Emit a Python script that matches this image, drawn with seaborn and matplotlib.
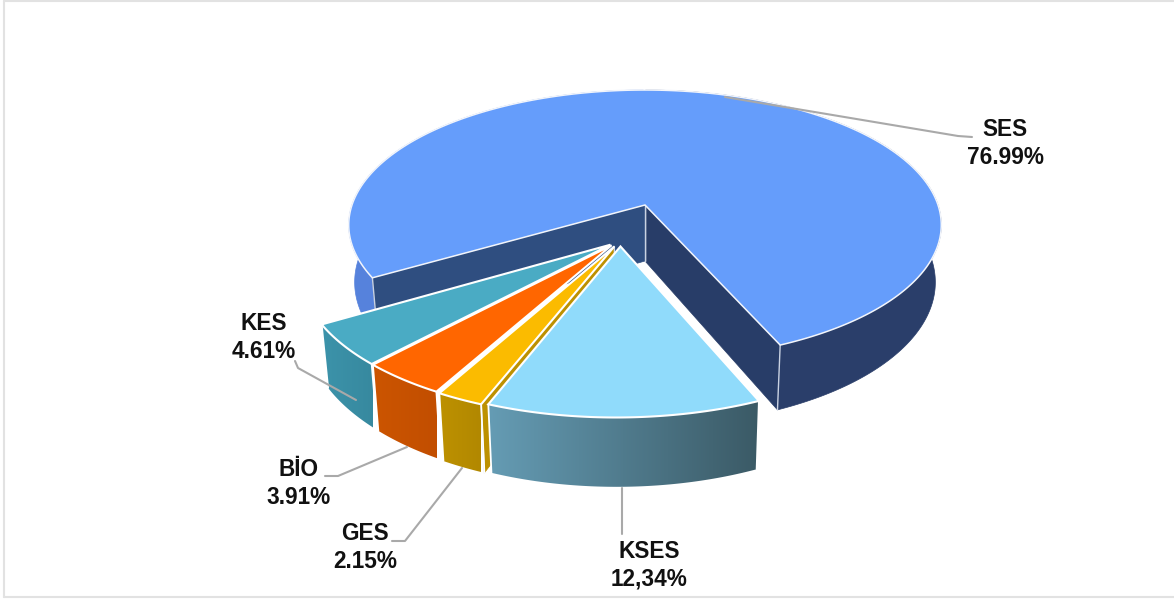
import numpy as np
import matplotlib.pyplot as plt
from matplotlib.patches import Polygon
import seaborn as sns

# Dados do gráfico
names = ['SES', 'KES', 'BİO', 'GES', 'KSES']
shares = [76.99, 4.61, 3.91, 2.15, 12.34]
share_labels = ['76.99%', '4.61%', '3.91%', '2.15%', '12,34%']

# Cores: topo, parede inicial e final (gradiente)
top_colors = ['#659DFB', '#4AABC4', '#FF6600', '#FBBB00', '#90DBFB']
wall_start = ['#2A3E6A', '#3C93AA', '#CC5500', '#BD9100', '#659CB4']
wall_end = ['#5682DC', '#37899F', '#C24E00', '#B28800', '#3B5A66']
face_colors = ['#2F4E80', '#37899F', '#C24E00', '#BD9100', '#659CB4']

# Deslocamento de cada fatia no plano da pizza
offset_u = [0.0, -0.113, -0.109, -0.100, -0.08]
offset_v = [0.0, -0.288, -0.292, -0.30, -0.30]

# Posição dos rótulos e linhas de chamada (pixels)
label_xy = [(1005, 129), (264, 323), (299, 470), (365, 534), (649, 551)]
leaders = [
    [(725, 97), (958, 136), (972, 137)],
    [(295, 361), (298, 368), (356, 400)],
    [(325, 476), (338, 476), (407, 447)],
    [(392, 541), (405, 541), (462, 468)],
    [(622, 488), (622, 534)],
]

# Perspectiva
CX, CY, A, B, K, DEPTH, SHRINK = 645, 205, 293, 132, 0.148, 56, 0.98
START = -66.5


def project(u, v):
    d = 1 + K * v
    return CX + A * u / d, CY - B * v / d


def rim(t0, t1, du, dv):
    t = np.radians(np.linspace(t0, t1, max(int(abs(t1 - t0)) * 2, 8)))
    return np.cos(t) + du, np.sin(t) + dv


def add_depth(v):
    return DEPTH / (1 + K * v)


def lower_x(x):
    return CX + (x - CX) * SHRINK


def wall_polygon(x, y, yb):
    return np.c_[np.r_[x, lower_x(x)[::-1]], np.r_[y, yb[::-1]]]


sns.set_theme(style='white', font='Liberation Sans')
fig = plt.figure(figsize=(11.74, 5.99), dpi=100)
ax = fig.add_axes([0, 0, 1, 1])

# Moldura
ax.plot([4, 4], [1, 597], color='#E2E2E2', lw=1.5)
ax.plot([4, 1174], [1, 1], color='#E2E2E2', lw=1.5)
ax.plot([4, 1174], [597, 597], color='#E2E2E2', lw=1.5)

angle = START
for i, name in enumerate(names):
    t0 = angle
    t1 = angle + shares[i] * 3.6
    angle = t1
    du, dv = offset_u[i], offset_v[i]
    u, v = rim(t0, t1, du, dv)
    x, y = project(u, v)
    yb = y + add_depth(v)

    # Parede externa
    if name == 'SES':
        right = np.cos(np.radians(np.linspace(t0, t1, len(x)))) >= 0
        ax.fill(*wall_polygon(x[right], y[right], yb[right]).T, color=wall_start[0], lw=0.5, zorder=2)
        ax.fill(*wall_polygon(x[~right], y[~right], yb[~right]).T, color=wall_end[0], lw=0.5, zorder=2)
    else:
        poly = Polygon(wall_polygon(x, y, yb), closed=True, transform=ax.transData, fc='none', ec='none')
        ax.add_patch(poly)
        grad = np.array(sns.blend_palette([wall_start[i], wall_end[i]], 128))[None, :, :]
        im = ax.imshow(grad, extent=[x.min(), x.max(), yb.max(), y.min()], aspect='auto',
                       interpolation='bilinear', zorder=2 + i)
        im.set_clip_path(poly)

    # Faces internas
    ax_, ay = project(du, dv)
    ab = ay + add_depth(dv)
    if name == 'SES':
        ends = [0, -1]
        cols = ['#283D68', face_colors[0]]
    elif name == 'GES':
        ends = [-1]
        cols = [face_colors[i]]
    else:
        ends = []
        cols = []
    for e, c in zip(ends, cols):
        ax.fill([ax_, x[e], lower_x(x[e]), lower_x(ax_)], [ay, y[e], yb[e], ab], color=c, lw=0.5, zorder=2 + i)
        ax.plot([x[e], lower_x(x[e])], [y[e], yb[e]], color='#C9D2E2', lw=1, zorder=2 + i)
        ax.plot([ax_, lower_x(ax_)], [ay, ab], color='#C9D2E2', lw=1, zorder=2 + i)

    # Separador vertical da fatia
    if name != 'SES':
        ax.plot([x[0], lower_x(x[0])], [y[0], yb[0]], color='white', lw=1.3, zorder=2 + i)
        ax.plot([x[-1], lower_x(x[-1])], [y[-1], yb[-1]], color='white', lw=1.3, zorder=2 + i)

    # Topo
    edge = '#F2F5FB' if name == 'SES' else 'white'
    ax.fill(np.r_[ax_, x], np.r_[ay, y], facecolor=top_colors[i], edgecolor=edge,
            lw=1.1 if name == 'SES' else 1.5, zorder=2 + i)

# Rótulos
for i, name in enumerate(names):
    lx, ly = label_xy[i]
    ax.text(lx, ly, name, ha='center', va='center', fontsize=16.3, fontweight='bold', color='#111111', zorder=10)
    ax.text(lx, ly + 28, share_labels[i], ha='center', va='center', fontsize=16.3, fontweight='bold',
            color='#111111', zorder=10)
    ax.plot(*zip(*leaders[i]), color='#A9A9A9', lw=1.5, zorder=9)

ax.set_xlim(0, 1174)
ax.set_ylim(599, 0)
ax.axis('off')

fig.savefig('out.png', dpi=100, facecolor='white')
